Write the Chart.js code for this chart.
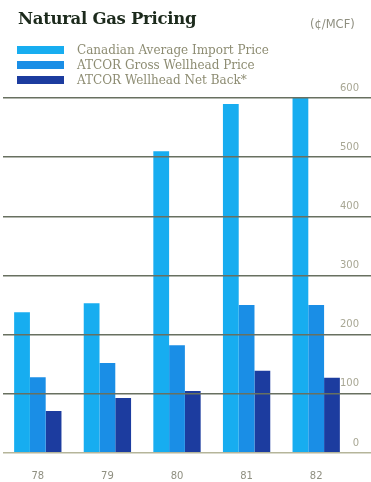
<!DOCTYPE html>
<html>
<head>
<meta charset="utf-8">
<script src="https://cdn.jsdelivr.net/npm/chart.js@4"></script>
<style>
    html, body { margin: 0; padding: 0; background: #fff; }
    #wrap { position: relative; width: 371px; height: 482px; overflow: hidden; }
    #chart { position: absolute; left: 0; top: 0; }
    #title { position: absolute; left: 18px; top: 9px; font: bold 16.5px "DejaVu Serif"; color: #1c2a1c; letter-spacing: -0.3px; }
    #unit { position: absolute; left: 310px; top: 17px; font: 11.5px "DejaVu Sans"; color: #8f8f80; }
    #legend { position: absolute; left: 17px; top: 42px; }
    .row { height: 15px; display: flex; align-items: center; font: 12px "DejaVu Serif"; color: #8d8c72; }
    .sw { width: 47px; height: 8px; margin-right: 13px; }
</style>
</head>
<body>
<div id="wrap">
    <canvas id="chart" width="371" height="482"></canvas>
    <div id="title">Natural Gas Pricing</div>
    <div id="unit">(¢/MCF)</div>
    <div id="legend"></div>
</div>
<script>
// Data (cents per MCF)
const years = ['78', '79', '80', '81', '82'];
const seriesNames = ['Canadian Average Import Price', 'ATCOR Gross Wellhead Price', 'ATCOR Wellhead Net Back*'];
const importPrice = [238, 253, 510, 590, 600];
const grossWellhead = [128, 152, 182, 250, 250];
const netBack = [71, 93, 105, 139, 127];
const yTicks = [0, 100, 200, 300, 400, 500, 600];

const colors = ['#17adf0', '#1a8ee6', '#1c3c9f'];

// Legend
const legend = document.getElementById('legend');
seriesNames.forEach((name, i) => {
    const row = document.createElement('div');
    row.className = 'row';
    row.innerHTML = `<span class="sw" style="background:${colors[i]}"></span>${name}`;
    legend.appendChild(row);
});

const ctx = document.getElementById('chart').getContext('2d');
new Chart(ctx, {
    type: 'bar',
    data: {
        labels: years,
        datasets: [importPrice, grossWellhead, netBack].map((d, i) => ({
            label: seriesNames[i],
            data: d,
            backgroundColor: colors[i],
            borderWidth: 0,
            categoryPercentage: 0.68,
            barPercentage: 1.0
        }))
    },
    options: {
        responsive: false,
        animation: false,
        layout: { padding: { left: 3, top: 98, right: 0, bottom: 0 } },
        plugins: {
            legend: { display: false },
            title: { display: false },
            tooltip: { enabled: false }
        },
        scales: {
            x: {
                grid: { display: false },
                border: { display: false },
                ticks: {
                    color: '#8f8f80',
                    font: { family: 'DejaVu Sans', size: 10 },
                    padding: 9
                },
                afterFit: (scale) => { scale.height = 29; }
            },
            y: {
                position: 'right',
                min: 0,
                max: 600,
                afterBuildTicks: (scale) => { scale.ticks = yTicks.map(v => ({ value: v })); },
                afterFit: (scale) => { scale.width = 20; },
                border: { display: false },
                grid: {
                    color: (c) => c.tick && c.tick.value === 0 ? '#b5b59a' : '#687060',
                    lineWidth: 1.5,
                    drawTicks: true,
                    tickLength: 20,
                    z: 1
                },
                ticks: {
                    color: '#a8a794',
                    font: { family: 'DejaVu Sans', size: 10 },
                    mirror: true,
                    padding: 8,
                    labelOffset: -10,
                    z: 1
                }
            }
        }
    }
});
</script>
</body>
</html>
